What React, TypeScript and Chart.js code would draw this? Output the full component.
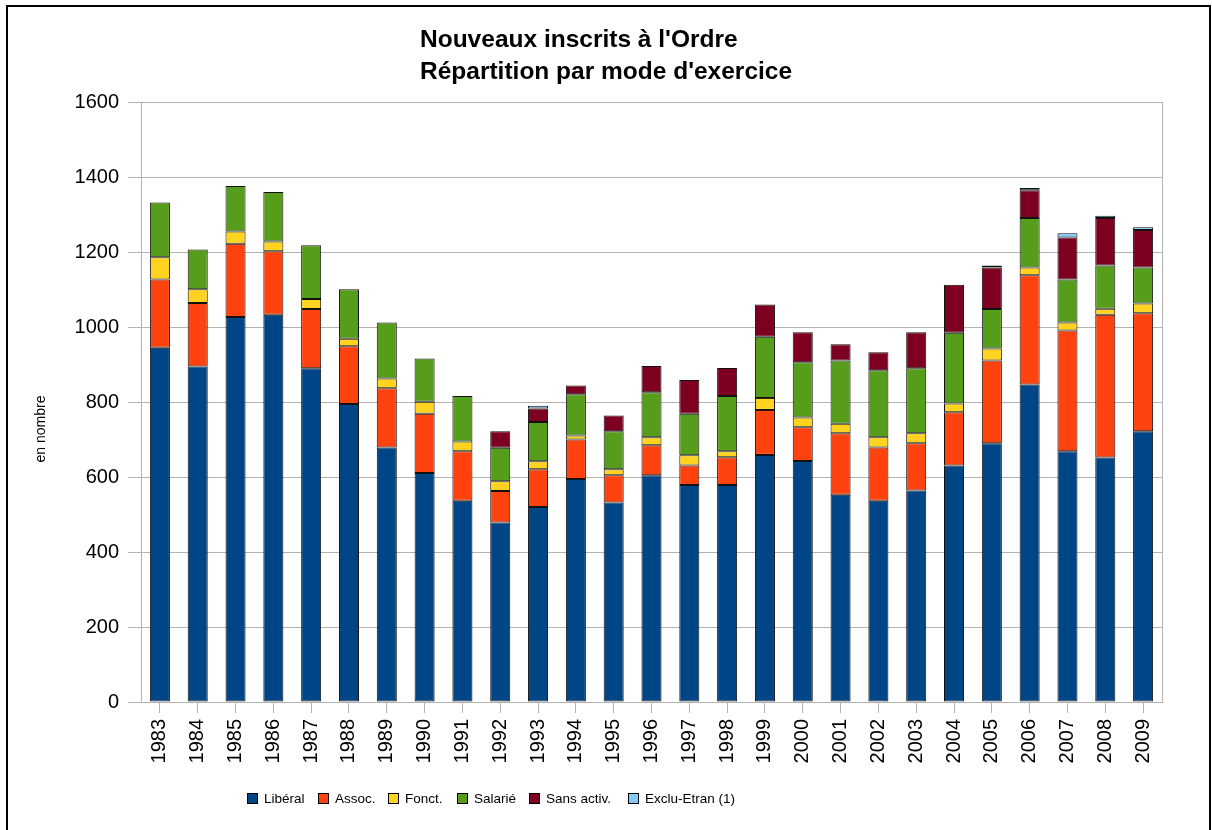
import React, { useEffect, useRef } from "react";
import { Chart, registerables } from "chart.js";

Chart.register(...registerables);

const years = ["1983","1984","1985","1986","1987","1988","1989","1990","1991","1992","1993","1994","1995","1996","1997","1998","1999","2000","2001","2002","2003","2004","2005","2006","2007","2008","2009"];
const liberal = [945, 895, 1027, 1033, 890, 795, 679, 611, 537, 479, 520, 595, 532, 605, 579, 579, 659, 643, 553, 537, 564, 631, 690, 847, 669, 652, 722];
const assoc = [182, 169, 195, 169, 158, 154, 158, 158, 132, 84, 101, 105, 73, 80, 52, 74, 120, 90, 164, 142, 126, 142, 221, 291, 322, 381, 315];
const fonct = [59, 37, 33, 26, 27, 20, 26, 32, 26, 26, 21, 11, 16, 21, 27, 16, 32, 26, 25, 27, 27, 23, 32, 21, 21, 16, 26];
const salarie = [146, 106, 121, 132, 143, 132, 149, 115, 121, 89, 105, 110, 101, 120, 111, 147, 163, 147, 169, 179, 173, 189, 105, 132, 115, 115, 96];
const sansActiv = [0, 0, 0, 0, 0, 0, 0, 0, 0, 44, 36, 23, 42, 70, 90, 75, 86, 80, 43, 48, 96, 128, 111, 74, 112, 127, 100];
const excluEtran = [0, 0, 0, 0, 0, 0, 0, 0, 0, 0, 7, 0, 0, 0, 0, 0, 0, 0, 0, 0, 0, 0, 5, 6, 11, 6, 7];

const seriesNames = ["Libéral", "Assoc.", "Fonct.", "Salarié", "Sans activ.", "Exclu-Etran (1)"];
const seriesColors = ["#004586", "#ff420e", "#ffd320", "#579d1c", "#7e0021", "#83caff"];
const titleLines = ["Nouveaux inscrits à l'Ordre", "Répartition par mode d'exercice"];
const yTitle = "en nombre";

const FONT = "'Liberation Sans', Arial, sans-serif";

export default function App() {
  const ref = useRef<HTMLCanvasElement | null>(null);

  useEffect(() => {
    const canvas = ref.current;
    if (!canvas) return;
    const allSeries = [liberal, assoc, fonct, salarie, sansActiv, excluEtran];

    const decor = {
      id: "decor",
      afterDraw(chart: any) {
        const ctx = chart.ctx;
        const ca = chart.chartArea;
        ctx.save();
        // plot right border
        ctx.strokeStyle = "#b3b3b3";
        ctx.lineWidth = 1;
        ctx.beginPath();
        ctx.moveTo(Math.round(ca.right) + 0.5, ca.top);
        ctx.lineTo(Math.round(ca.right) + 0.5, ca.bottom);
        ctx.stroke();
        // outer frame
        ctx.strokeStyle = "#000";
        ctx.lineWidth = 2;
        ctx.beginPath();
        ctx.moveTo(7, 840);
        ctx.lineTo(7, 6);
        ctx.lineTo(1210, 6);
        ctx.lineTo(1210, 840);
        ctx.stroke();
        // title
        ctx.fillStyle = "#000";
        ctx.font = "bold 24.5px " + FONT;
        ctx.textAlign = "left";
        ctx.textBaseline = "alphabetic";
        ctx.fillText(titleLines[0], 420, 47);
        ctx.fillText(titleLines[1], 420, 79);
        // y title
        ctx.save();
        ctx.translate(45, 429);
        ctx.rotate(-Math.PI / 2);
        ctx.font = "14px " + FONT;
        ctx.textAlign = "center";
        ctx.textBaseline = "alphabetic";
        ctx.fillText(yTitle, 0, 0);
        ctx.restore();
        // legend
        const boxX = [247, 318, 388, 457, 529, 628];
        ctx.font = "13.5px " + FONT;
        ctx.textAlign = "left";
        ctx.textBaseline = "middle";
        seriesNames.forEach((n, i) => {
          const x = boxX[i];
          ctx.fillStyle = seriesColors[i];
          ctx.fillRect(x, 793, 11, 11);
          ctx.strokeStyle = "#000";
          ctx.lineWidth = 1;
          ctx.strokeRect(x + 0.5, 793.5, 10, 10);
          ctx.fillStyle = "#000";
          ctx.fillText(n, x + 17, 799);
        });
        ctx.restore();
      },
    };

    const chart = new Chart(canvas, {
      type: "bar",
      data: {
        labels: years,
        datasets: allSeries.map((d, i) => ({
          label: seriesNames[i],
          data: d.map((v) => (v ? v : null)),
          backgroundColor: seriesColors[i],
          borderColor: "#111",
          borderWidth: 1,
          borderSkipped: false,
          barPercentage: 0.53,
          categoryPercentage: 1,
        })),
      },
      options: {
        responsive: false,
        animation: false,
        layout: { padding: { top: 102, right: 50, left: 0, bottom: 0 } },
        plugins: {
          legend: { display: false },
          title: { display: false },
          tooltip: { enabled: false },
        },
        scales: {
          x: {
            stacked: true,
            grid: {
              offset: false,
              drawOnChartArea: false,
              drawTicks: true,
              tickLength: 11,
              color: "#b3b3b3",
            },
            border: { color: "#b3b3b3" },
            ticks: {
              color: "#000",
              font: { size: 20, family: FONT },
              minRotation: 90,
              maxRotation: 90,
              padding: 6,
              autoSkip: false,
            },
            afterFit: (s: any) => {
              s.height = 128;
            },
          },
          y: {
            stacked: true,
            min: 0,
            max: 1600,
            ticks: {
              stepSize: 200,
              color: "#000",
              font: { size: 20, family: FONT },
              padding: 9,
              callback: (v: any) => String(v),
            },
            grid: { color: "#b3b3b3", tickLength: 13 },
            border: { color: "#b3b3b3" },
            afterFit: (s: any) => {
              s.width = 141;
            },
          },
        },
      },
      plugins: [decor],
    });
    return () => chart.destroy();
  }, []);

  return (
    <div style={{ position: "absolute", left: 0, top: 0, width: 1212, height: 830, background: "#fff" }}>
      <canvas ref={ref} width={1212} height={830} />
    </div>
  );
}
